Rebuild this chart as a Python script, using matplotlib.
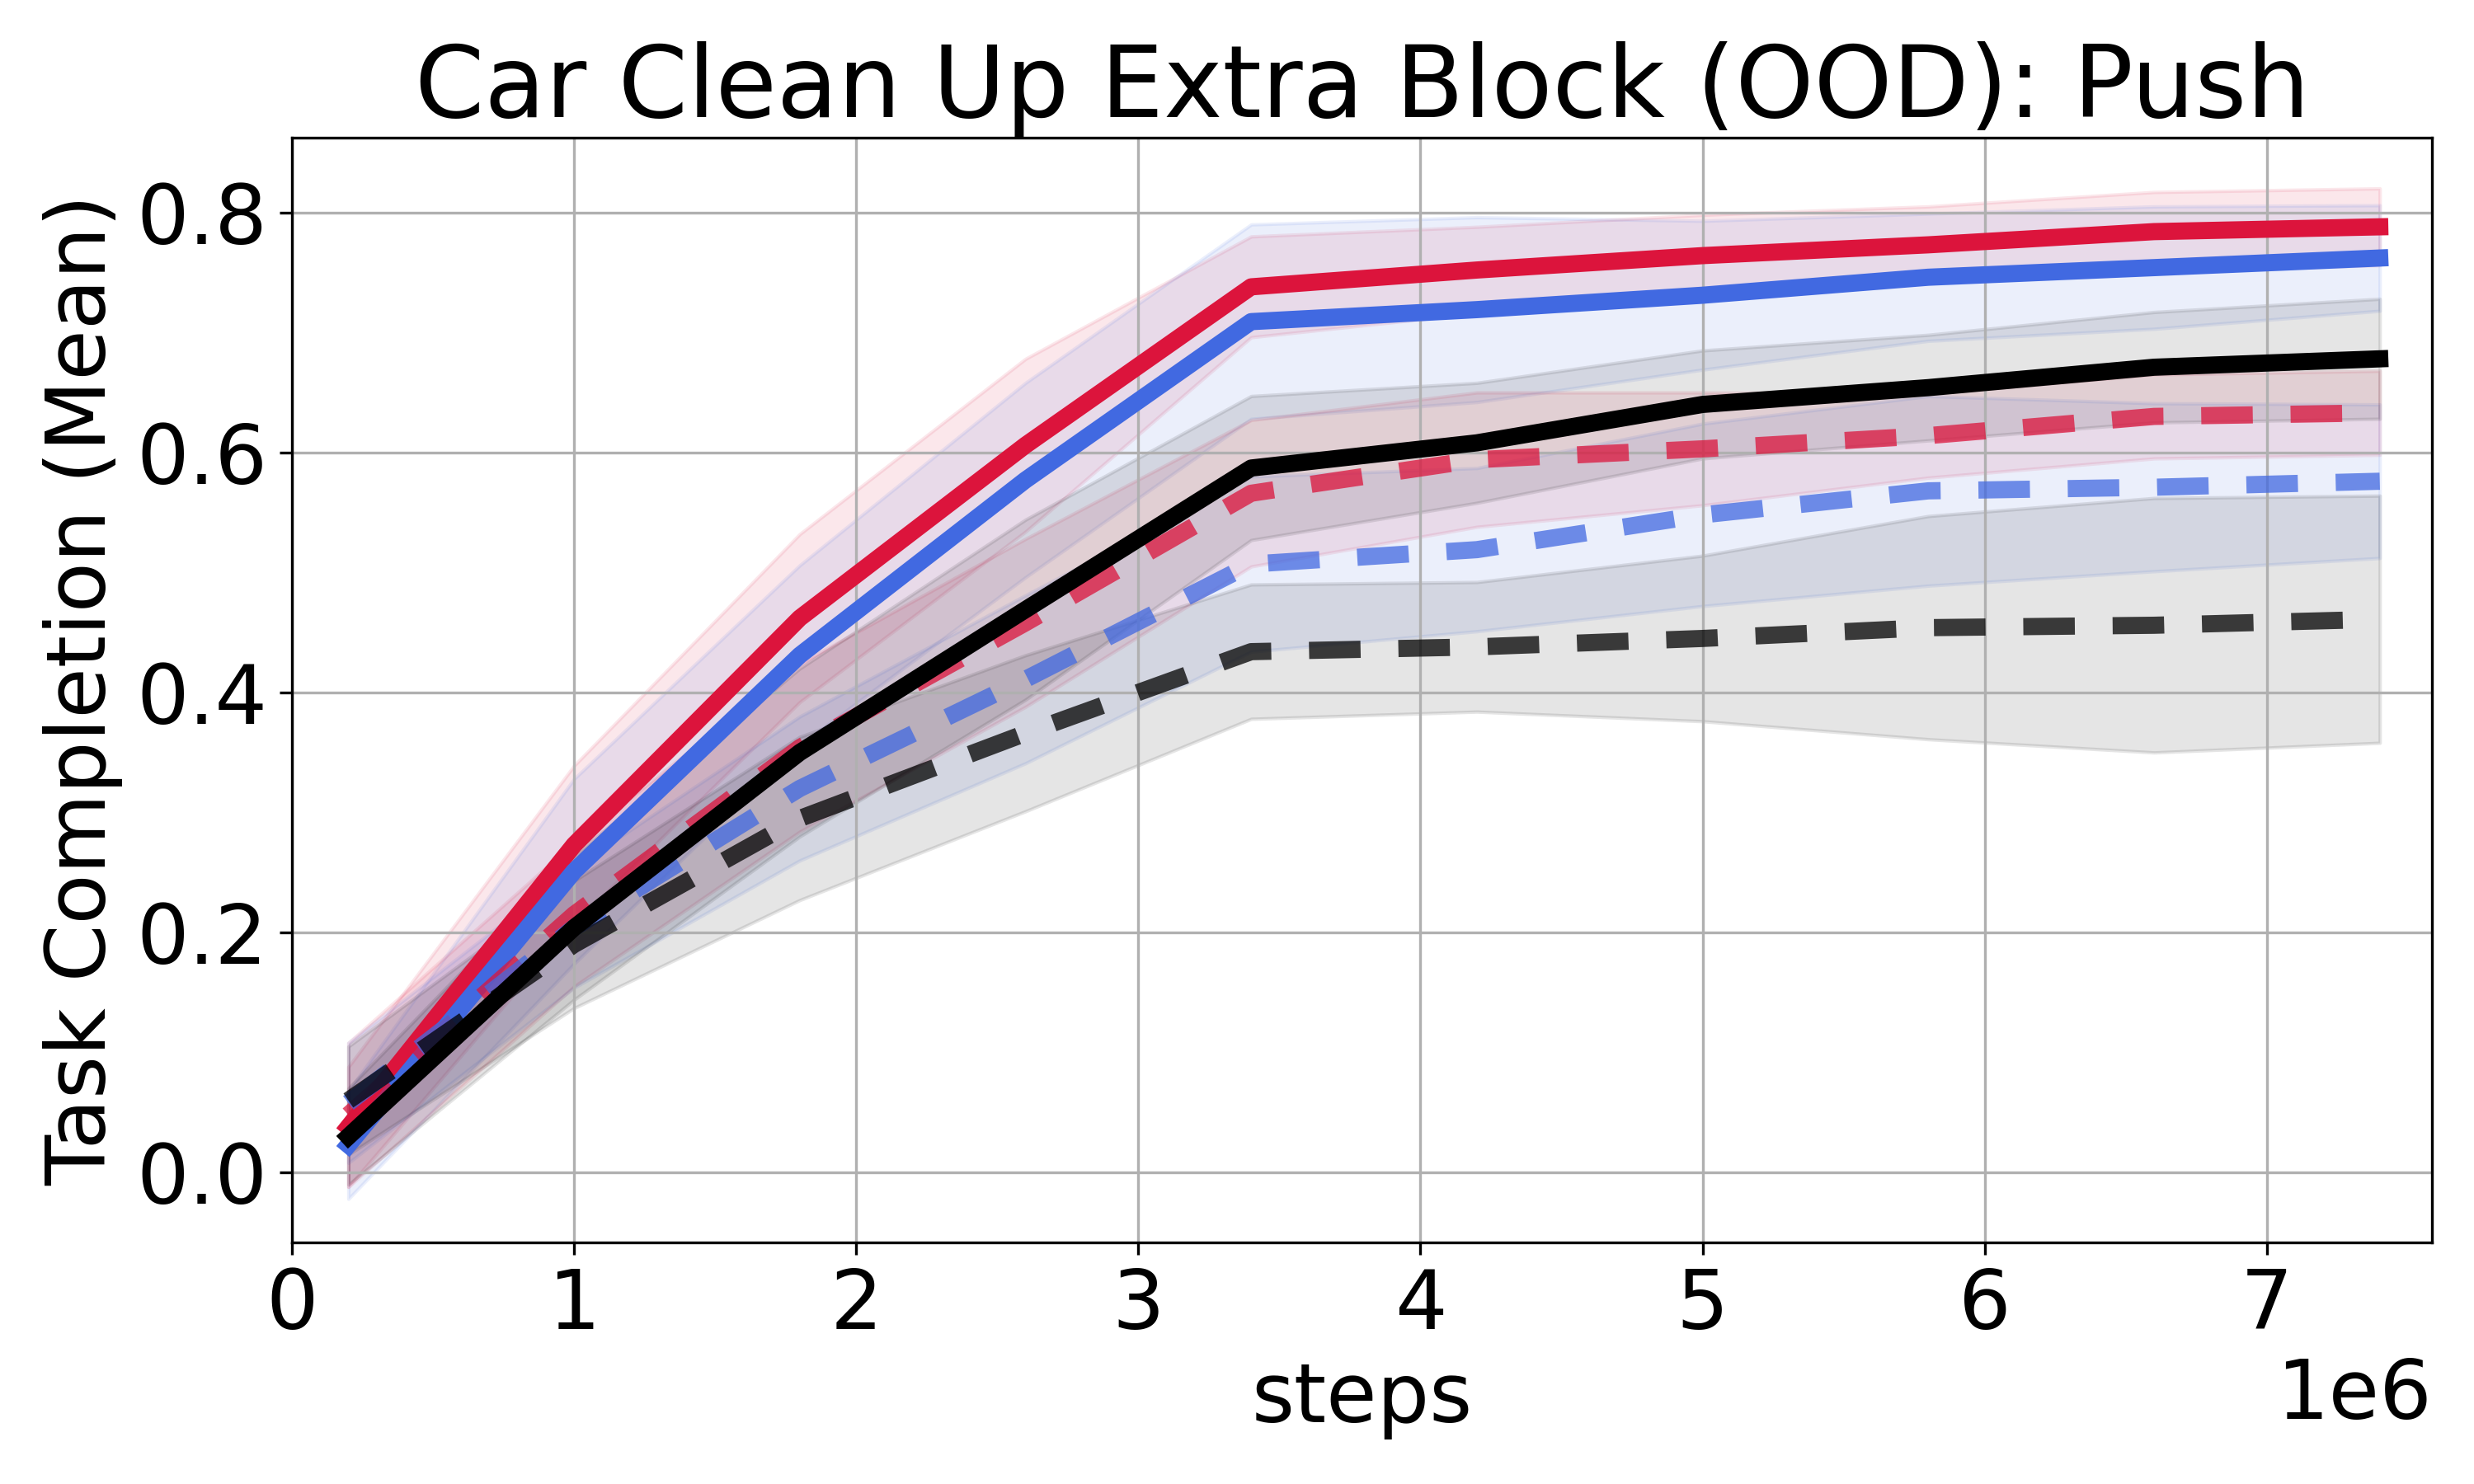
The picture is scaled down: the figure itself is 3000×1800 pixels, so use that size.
import matplotlib
matplotlib.use("Agg")
import matplotlib.pyplot as plt
import numpy as np

steps = np.array([0.2, 1.0, 1.8, 2.6, 3.4, 4.2, 5.0, 5.8, 6.6, 7.4]) * 1e6

red_solid = [0.038, 0.273, 0.462, 0.606, 0.738, 0.752, 0.764, 0.773, 0.784, 0.788]
red_solid_std = [0.050, 0.066, 0.070, 0.072, 0.042, 0.036, 0.034, 0.032, 0.033, 0.032]

blue_solid = [0.023, 0.251, 0.431, 0.577, 0.709, 0.719, 0.731, 0.746, 0.754, 0.762]
blue_solid_std = [0.045, 0.077, 0.075, 0.081, 0.081, 0.077, 0.062, 0.053, 0.051, 0.044]

black_solid = [0.030, 0.204, 0.350, 0.469, 0.587, 0.608, 0.640, 0.654, 0.671, 0.678]
black_solid_std = [0.040, 0.060, 0.070, 0.075, 0.060, 0.050, 0.045, 0.044, 0.046, 0.050]

red_dashed = [0.048, 0.215, 0.354, 0.458, 0.566, 0.594, 0.603, 0.614, 0.630, 0.633]
red_dashed_std = [0.060, 0.060, 0.070, 0.070, 0.061, 0.056, 0.047, 0.035, 0.035, 0.035]

blue_dashed = [0.058, 0.204, 0.320, 0.411, 0.507, 0.519, 0.548, 0.568, 0.571, 0.576]
blue_dashed_std = [0.050, 0.050, 0.060, 0.070, 0.073, 0.068, 0.076, 0.079, 0.070, 0.064]

black_dashed = [0.060, 0.190, 0.295, 0.366, 0.434, 0.438, 0.445, 0.454, 0.456, 0.461]
black_dashed_std = [0.045, 0.053, 0.068, 0.065, 0.056, 0.054, 0.069, 0.093, 0.106, 0.103]

title = "Car Clean Up Extra Block (OOD): Push"
xlabel = "steps"
ylabel = "Task Completion (Mean)"

series = [
    (red_solid, red_solid_std, "crimson", "-", 1.0),
    (blue_solid, blue_solid_std, "royalblue", "-", 1.0),
    (red_dashed, red_dashed_std, "crimson", (0, (3.0, 2.2)), 0.75),
    (blue_dashed, blue_dashed_std, "royalblue", (0, (3.0, 2.2)), 0.75),
    (black_dashed, black_dashed_std, "black", (0, (3.0, 2.2)), 0.75),
    (black_solid, black_solid_std, "black", "-", 1.0),
]

fig = plt.figure(figsize=(10, 6), dpi=300)
ax = fig.add_subplot(111)
fig.subplots_adjust(left=0.118, right=0.983, bottom=0.163, top=0.907)

for mean, std, color, ls, alpha in series:
    m = np.array(mean)
    s = np.array(std)
    ax.fill_between(steps, m - s, m + s, color=color, alpha=0.1)
for mean, std, color, ls, alpha in series:
    ax.plot(steps, mean, color=color, linestyle=ls, linewidth=5, alpha=alpha)

ax.set_xlim(0, 7.585e6)
ax.set_ylim(-0.058, 0.862)
ax.set_yticks([0.0, 0.2, 0.4, 0.6, 0.8])
ax.grid(True)
ax.tick_params(labelsize=24)
ax.xaxis.get_offset_text().set_fontsize(24)
ax.set_title(title, fontsize=29)
ax.set_xlabel(xlabel, fontsize=24)
ax.set_ylabel(ylabel, fontsize=24)

fig.savefig("out.png", dpi=300)
